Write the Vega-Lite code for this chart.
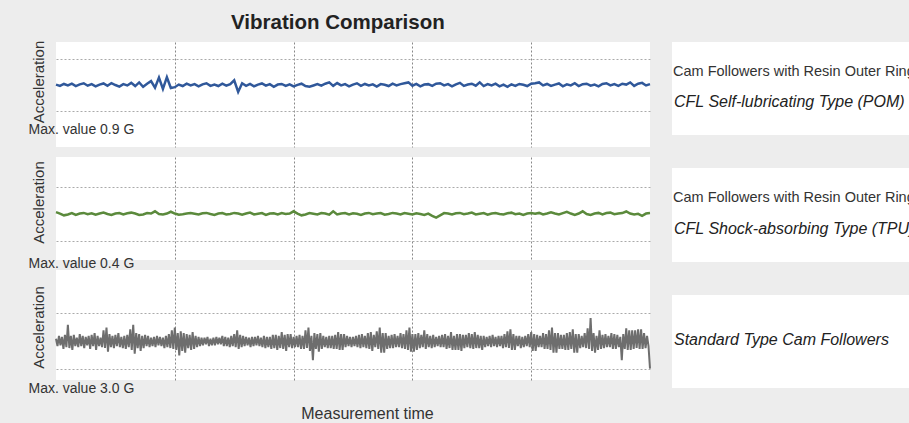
{
"$schema":"https://vega.github.io/schema/vega-lite/v6.json",
"background":"#ededed",
"padding":{"left":28,"top":12,"right":0,"bottom":6},
"config":{"font":"Liberation Sans","view":{"stroke":null},"axis":{"gridColor":"#aaaaaa","gridDash":[2,2],"gridWidth":1,"labels":false,"ticks":false,"domain":false,"titleFont":"Liberation Sans","titleFontWeight":"normal","titleColor":"#333333"}},
"title":{"text":"Vibration Comparison","anchor":"start","dx":203,"fontSize":20.5,"fontWeight":"bold","color":"#222222","offset":7},
"datasets":{
"pom":[{"t":0,"a":0.05},{"t":1,"a":-0.1},{"t":2,"a":0.12},{"t":3,"a":-0.05},{"t":4,"a":0.15},{"t":5,"a":-0.12},{"t":6,"a":0.08},{"t":7,"a":0.2},{"t":8,"a":-0.08},{"t":9,"a":0.1},{"t":10,"a":-0.15},{"t":11,"a":0.05},{"t":12,"a":0.18},{"t":13,"a":-0.1},{"t":14,"a":0.22},{"t":15,"a":0},{"t":16,"a":-0.18},{"t":17,"a":0.1},{"t":18,"a":-0.05},{"t":19,"a":0.25},{"t":20,"a":-0.12},{"t":21,"a":0.3},{"t":22,"a":-0.2},{"t":23,"a":0.15},{"t":24,"a":0.45},{"t":25,"a":-0.3},{"t":26,"a":0.85},{"t":27,"a":-0.45},{"t":28,"a":0.9},{"t":29,"a":-0.35},{"t":30,"a":-0.25},{"t":31,"a":0.05},{"t":32,"a":-0.12},{"t":33,"a":0.15},{"t":34,"a":-0.05},{"t":35,"a":0.1},{"t":36,"a":-0.15},{"t":37,"a":0.08},{"t":38,"a":0.2},{"t":39,"a":-0.1},{"t":40,"a":0.05},{"t":41,"a":-0.12},{"t":42,"a":0.15},{"t":43,"a":-0.08},{"t":44,"a":0.1},{"t":45,"a":0.55},{"t":46,"a":-0.8},{"t":47,"a":0.2},{"t":48,"a":-0.1},{"t":49,"a":0.12},{"t":50,"a":-0.15},{"t":51,"a":0.05},{"t":52,"a":0.18},{"t":53,"a":-0.08},{"t":54,"a":0.1},{"t":55,"a":-0.2},{"t":56,"a":0.05},{"t":57,"a":0.12},{"t":58,"a":-0.1},{"t":59,"a":0.08},{"t":60,"a":-0.15},{"t":61,"a":0.02},{"t":62,"a":0.15},{"t":63,"a":-0.12},{"t":64,"a":-0.2},{"t":65,"a":-0.05},{"t":66,"a":0.1},{"t":67,"a":-0.08},{"t":68,"a":0.15},{"t":69,"a":0.3},{"t":70,"a":-0.1},{"t":71,"a":0.22},{"t":72,"a":-0.05},{"t":73,"a":0.1},{"t":74,"a":-0.15},{"t":75,"a":0.05},{"t":76,"a":0.2},{"t":77,"a":-0.1},{"t":78,"a":0.12},{"t":79,"a":-0.05},{"t":80,"a":0.08},{"t":81,"a":-0.18},{"t":82,"a":0.1},{"t":83,"a":0.02},{"t":84,"a":-0.12},{"t":85,"a":0.15},{"t":86,"a":-0.05},{"t":87,"a":0.1},{"t":88,"a":0.2},{"t":89,"a":0.3},{"t":90,"a":-0.08},{"t":91,"a":0.12},{"t":92,"a":-0.15},{"t":93,"a":0.05},{"t":94,"a":0.1},{"t":95,"a":-0.1},{"t":96,"a":0.15},{"t":97,"a":0.2},{"t":98,"a":-0.05},{"t":99,"a":0.1},{"t":100,"a":-0.15},{"t":101,"a":0.08},{"t":102,"a":0.25},{"t":103,"a":-0.1},{"t":104,"a":0.05},{"t":105,"a":0.15},{"t":106,"a":-0.08},{"t":107,"a":0.3},{"t":108,"a":-0.12},{"t":109,"a":0.1},{"t":110,"a":-0.05},{"t":111,"a":0.15},{"t":112,"a":-0.15},{"t":113,"a":0.05},{"t":114,"a":-0.2},{"t":115,"a":0.08},{"t":116,"a":-0.1},{"t":117,"a":0.12},{"t":118,"a":0.02},{"t":119,"a":-0.12},{"t":120,"a":0.15},{"t":121,"a":0.2},{"t":122,"a":0.3},{"t":123,"a":-0.05},{"t":124,"a":0.12},{"t":125,"a":-0.1},{"t":126,"a":0.05},{"t":127,"a":0.18},{"t":128,"a":-0.15},{"t":129,"a":0.08},{"t":130,"a":-0.05},{"t":131,"a":0.2},{"t":132,"a":-0.12},{"t":133,"a":0.1},{"t":134,"a":0.15},{"t":135,"a":-0.08},{"t":136,"a":0.05},{"t":137,"a":-0.15},{"t":138,"a":0.12},{"t":139,"a":0.2},{"t":140,"a":-0.05},{"t":141,"a":0.1},{"t":142,"a":-0.1},{"t":143,"a":0.15},{"t":144,"a":0.05},{"t":145,"a":0.3},{"t":146,"a":-0.1},{"t":147,"a":0.15},{"t":148,"a":0.25},{"t":149,"a":-0.05},{"t":150,"a":0.1}],
"tpu":[{"t":0,"a":0.2},{"t":1,"a":0.05},{"t":2,"a":-0.15},{"t":3,"a":-0.05},{"t":4,"a":0.1},{"t":5,"a":-0.1},{"t":6,"a":0.05},{"t":7,"a":0.12},{"t":8,"a":-0.02},{"t":9,"a":0.08},{"t":10,"a":-0.08},{"t":11,"a":0.05},{"t":12,"a":0.15},{"t":13,"a":0},{"t":14,"a":-0.1},{"t":15,"a":0.05},{"t":16,"a":0.1},{"t":17,"a":-0.05},{"t":18,"a":0.08},{"t":19,"a":0.15},{"t":20,"a":0.05},{"t":21,"a":-0.1},{"t":22,"a":-0.05},{"t":23,"a":0.1},{"t":24,"a":0.05},{"t":25,"a":0.3},{"t":26,"a":0},{"t":27,"a":-0.05},{"t":28,"a":0.05},{"t":29,"a":0.25},{"t":30,"a":0.05},{"t":31,"a":-0.08},{"t":32,"a":-0.02},{"t":33,"a":0.05},{"t":34,"a":0.1},{"t":35,"a":0.02},{"t":36,"a":-0.05},{"t":37,"a":0.08},{"t":38,"a":0.12},{"t":39,"a":0},{"t":40,"a":-0.1},{"t":41,"a":0.05},{"t":42,"a":0.1},{"t":43,"a":-0.05},{"t":44,"a":0},{"t":45,"a":0.12},{"t":46,"a":0.05},{"t":47,"a":-0.08},{"t":48,"a":0.05},{"t":49,"a":0.15},{"t":50,"a":-0.05},{"t":51,"a":0.02},{"t":52,"a":0.1},{"t":53,"a":-0.1},{"t":54,"a":0.05},{"t":55,"a":0.08},{"t":56,"a":-0.05},{"t":57,"a":0.1},{"t":58,"a":0},{"t":59,"a":0.05},{"t":60,"a":0.3},{"t":61,"a":0.05},{"t":62,"a":-0.15},{"t":63,"a":-0.05},{"t":64,"a":0.1},{"t":65,"a":0.02},{"t":66,"a":-0.05},{"t":67,"a":0.1},{"t":68,"a":0.05},{"t":69,"a":-0.08},{"t":70,"a":0.3},{"t":71,"a":-0.05},{"t":72,"a":0.05},{"t":73,"a":0.1},{"t":74,"a":-0.05},{"t":75,"a":0.08},{"t":76,"a":0.02},{"t":77,"a":-0.1},{"t":78,"a":0.05},{"t":79,"a":0.12},{"t":80,"a":-0.02},{"t":81,"a":0.05},{"t":82,"a":0.1},{"t":83,"a":-0.08},{"t":84,"a":0},{"t":85,"a":0.12},{"t":86,"a":0.05},{"t":87,"a":-0.05},{"t":88,"a":0.1},{"t":89,"a":0.02},{"t":90,"a":-0.05},{"t":91,"a":0.08},{"t":92,"a":0},{"t":93,"a":-0.1},{"t":94,"a":0.05},{"t":95,"a":-0.2},{"t":96,"a":-0.4},{"t":97,"a":-0.15},{"t":98,"a":0.1},{"t":99,"a":0.05},{"t":100,"a":-0.05},{"t":101,"a":0.08},{"t":102,"a":0.12},{"t":103,"a":-0.02},{"t":104,"a":0.05},{"t":105,"a":0.15},{"t":106,"a":-0.05},{"t":107,"a":0.02},{"t":108,"a":0.1},{"t":109,"a":-0.08},{"t":110,"a":0.05},{"t":111,"a":0.1},{"t":112,"a":0},{"t":113,"a":-0.05},{"t":114,"a":0.08},{"t":115,"a":0.15},{"t":116,"a":-0.02},{"t":117,"a":0.05},{"t":118,"a":-0.1},{"t":119,"a":0.05},{"t":120,"a":0.1},{"t":121,"a":0.02},{"t":122,"a":0.12},{"t":123,"a":-0.05},{"t":124,"a":0.05},{"t":125,"a":0.18},{"t":126,"a":0.05},{"t":127,"a":-0.05},{"t":128,"a":0.1},{"t":129,"a":0.25},{"t":130,"a":0.05},{"t":131,"a":-0.1},{"t":132,"a":0.05},{"t":133,"a":0.3},{"t":134,"a":0},{"t":135,"a":-0.1},{"t":136,"a":0.05},{"t":137,"a":0.12},{"t":138,"a":-0.05},{"t":139,"a":0.1},{"t":140,"a":0.15},{"t":141,"a":-0.02},{"t":142,"a":0.05},{"t":143,"a":0.1},{"t":144,"a":0.28},{"t":145,"a":0.05},{"t":146,"a":-0.05},{"t":147,"a":0.02},{"t":148,"a":-0.2},{"t":149,"a":0.05},{"t":150,"a":0.1}],
"std":[{"t":0,"a":0.3},{"t":1,"a":-0.5},{"t":2,"a":0.6},{"t":3,"a":-0.4},{"t":4,"a":0.5},{"t":5,"a":-0.8},{"t":6,"a":0.7},{"t":7,"a":-0.6},{"t":8,"a":1.8},{"t":9,"a":-0.7},
{"t":10,"a":0.6},{"t":11,"a":-0.9},{"t":12,"a":0.7},{"t":13,"a":-0.5},{"t":14,"a":0.4},{"t":15,"a":-0.6},{"t":16,"a":0.8},{"t":17,"a":-0.5},{"t":18,"a":0.6},{"t":19,"a":-0.7},
{"t":20,"a":0.5},{"t":21,"a":-0.4},{"t":22,"a":0.6},{"t":23,"a":-0.8},{"t":24,"a":0.7},{"t":25,"a":-0.5},{"t":26,"a":0.9},{"t":27,"a":-0.9},{"t":28,"a":0.6},{"t":29,"a":-0.5},
{"t":30,"a":0.4},{"t":31,"a":-0.6},{"t":32,"a":1.2},{"t":33,"a":-0.7},{"t":34,"a":1.5},{"t":35,"a":-1.1},{"t":36,"a":0.8},{"t":37,"a":-0.6},{"t":38,"a":0.6},{"t":39,"a":-0.7},
{"t":40,"a":0.7},{"t":41,"a":-0.5},{"t":42,"a":0.9},{"t":43,"a":-0.6},{"t":44,"a":0.5},{"t":45,"a":-0.7},{"t":46,"a":0.6},{"t":47,"a":-0.8},{"t":48,"a":0.7},{"t":49,"a":-0.6},
{"t":50,"a":1.3},{"t":51,"a":-0.9},{"t":52,"a":1.8},{"t":53,"a":-1.3},{"t":54,"a":0.9},{"t":55,"a":-0.7},{"t":56,"a":0.8},{"t":57,"a":-1.0},{"t":58,"a":0.6},{"t":59,"a":-0.7},
{"t":60,"a":0.7},{"t":61,"a":-0.5},{"t":62,"a":0.6},{"t":63,"a":-0.6},{"t":64,"a":0.4},{"t":65,"a":-0.5},{"t":66,"a":0.5},{"t":67,"a":-0.6},{"t":68,"a":0.6},{"t":69,"a":-0.4},
{"t":70,"a":0.5},{"t":71,"a":-0.5},{"t":72,"a":0.4},{"t":73,"a":-0.7},{"t":74,"a":0.6},{"t":75,"a":-0.6},{"t":76,"a":0.8},{"t":77,"a":-0.7},{"t":78,"a":1.2},{"t":79,"a":-0.8},
{"t":80,"a":1.5},{"t":81,"a":-0.9},{"t":82,"a":0.9},{"t":83,"a":-1.5},{"t":84,"a":1.1},{"t":85,"a":-1.0},{"t":86,"a":0.9},{"t":87,"a":-1.2},{"t":88,"a":0.8},{"t":89,"a":-0.7},
{"t":90,"a":0.7},{"t":91,"a":-0.9},{"t":92,"a":1.0},{"t":93,"a":-0.8},{"t":94,"a":0.6},{"t":95,"a":-0.6},{"t":96,"a":0.5},{"t":97,"a":-0.5},{"t":98,"a":0.4},{"t":99,"a":-0.4},
{"t":100,"a":0.4},{"t":101,"a":-0.3},{"t":102,"a":0.5},{"t":103,"a":-0.5},{"t":104,"a":0.3},{"t":105,"a":-0.4},{"t":106,"a":0.4},{"t":107,"a":-0.4},{"t":108,"a":0.5},{"t":109,"a":-0.3},
{"t":110,"a":0.4},{"t":111,"a":-0.3},{"t":112,"a":0.6},{"t":113,"a":-0.5},{"t":114,"a":0.5},{"t":115,"a":-0.5},{"t":116,"a":0.4},{"t":117,"a":-0.6},{"t":118,"a":0.6},{"t":119,"a":-0.5},
{"t":120,"a":0.8},{"t":121,"a":-0.6},{"t":122,"a":1.2},{"t":123,"a":-0.8},{"t":124,"a":0.7},{"t":125,"a":-0.6},{"t":126,"a":0.6},{"t":127,"a":-0.5},{"t":128,"a":0.5},{"t":129,"a":-0.4},
{"t":130,"a":0.4},{"t":131,"a":-0.6},{"t":132,"a":0.5},{"t":133,"a":-0.5},{"t":134,"a":0.5},{"t":135,"a":-0.4},{"t":136,"a":0.6},{"t":137,"a":-0.5},{"t":138,"a":0.4},{"t":139,"a":-0.6},
{"t":140,"a":0.6},{"t":141,"a":-0.7},{"t":142,"a":0.5},{"t":143,"a":-0.6},{"t":144,"a":0.5},{"t":145,"a":-0.8},{"t":146,"a":0.7},{"t":147,"a":-0.7},{"t":148,"a":0.7},{"t":149,"a":-0.9},
{"t":150,"a":0.6},{"t":151,"a":-0.7},{"t":152,"a":1.0},{"t":153,"a":-0.8},{"t":154,"a":0.7},{"t":155,"a":-1.0},{"t":156,"a":0.8},{"t":157,"a":-0.6},{"t":158,"a":0.8},{"t":159,"a":-0.7},
{"t":160,"a":0.5},{"t":161,"a":-0.6},{"t":162,"a":0.6},{"t":163,"a":-0.6},{"t":164,"a":0.7},{"t":165,"a":-0.8},{"t":166,"a":0.6},{"t":167,"a":-0.8},{"t":168,"a":1.2},{"t":169,"a":-0.7},
{"t":170,"a":1.5},{"t":171,"a":-1.0},{"t":172,"a":0.6},{"t":173,"a":-2.0},{"t":174,"a":0.9},{"t":175,"a":-0.8},{"t":176,"a":0.8},{"t":177,"a":-1.1},{"t":178,"a":0.9},{"t":179,"a":-0.8},
{"t":180,"a":0.6},{"t":181,"a":-0.6},{"t":182,"a":0.5},{"t":183,"a":-0.7},{"t":184,"a":0.6},{"t":185,"a":-0.7},{"t":186,"a":0.6},{"t":187,"a":-0.8},{"t":188,"a":0.7},{"t":189,"a":-0.8},
{"t":190,"a":1.0},{"t":191,"a":-0.9},{"t":192,"a":0.8},{"t":193,"a":-0.9},{"t":194,"a":0.8},{"t":195,"a":-0.6},{"t":196,"a":0.6},{"t":197,"a":-0.5},{"t":198,"a":0.5},{"t":199,"a":-0.6},
{"t":200,"a":0.5},{"t":201,"a":-0.5},{"t":202,"a":0.6},{"t":203,"a":-0.6},{"t":204,"a":0.7},{"t":205,"a":-0.7},{"t":206,"a":0.8},{"t":207,"a":-0.6},{"t":208,"a":0.6},{"t":209,"a":-0.7},
{"t":210,"a":0.9},{"t":211,"a":-0.8},{"t":212,"a":1.0},{"t":213,"a":-1.0},{"t":214,"a":0.7},{"t":215,"a":-0.6},{"t":216,"a":1.1},{"t":217,"a":-0.8},{"t":218,"a":1.5},{"t":219,"a":-1.2},
{"t":220,"a":0.9},{"t":221,"a":-1.2},{"t":222,"a":0.9},{"t":223,"a":-0.8},{"t":224,"a":0.6},{"t":225,"a":-0.7},{"t":226,"a":0.7},{"t":227,"a":-0.7},{"t":228,"a":0.8},{"t":229,"a":-0.6},
{"t":230,"a":0.6},{"t":231,"a":-0.6},{"t":232,"a":0.9},{"t":233,"a":-0.7},{"t":234,"a":0.8},{"t":235,"a":-0.8},{"t":236,"a":1.2},{"t":237,"a":-0.9},{"t":238,"a":1.5},{"t":239,"a":-1.1},
{"t":240,"a":0.8},{"t":241,"a":-1.1},{"t":242,"a":0.8},{"t":243,"a":-0.9},{"t":244,"a":0.9},{"t":245,"a":-0.7},{"t":246,"a":0.7},{"t":247,"a":-0.6},{"t":248,"a":1.2},{"t":249,"a":-0.8},
{"t":250,"a":0.8},{"t":251,"a":-0.6},{"t":252,"a":0.6},{"t":253,"a":-0.7},{"t":254,"a":0.7},{"t":255,"a":-0.6},{"t":256,"a":0.5},{"t":257,"a":-0.5},{"t":258,"a":0.6},{"t":259,"a":-0.6},
{"t":260,"a":0.7},{"t":261,"a":-0.6},{"t":262,"a":0.8},{"t":263,"a":-0.8},{"t":264,"a":0.6},{"t":265,"a":-0.7},{"t":266,"a":1.0},{"t":267,"a":-0.9},{"t":268,"a":0.6},{"t":269,"a":-0.9},
{"t":270,"a":0.8},{"t":271,"a":-0.9},{"t":272,"a":0.8},{"t":273,"a":-1.0},{"t":274,"a":0.7},{"t":275,"a":-0.7},{"t":276,"a":0.7},{"t":277,"a":-0.6},{"t":278,"a":0.9},{"t":279,"a":-0.7},
{"t":280,"a":0.8},{"t":281,"a":-0.8},{"t":282,"a":1.0},{"t":283,"a":-0.7},{"t":284,"a":0.7},{"t":285,"a":-0.7},{"t":286,"a":0.6},{"t":287,"a":-0.9},{"t":288,"a":0.6},{"t":289,"a":-0.6},
{"t":290,"a":0.5},{"t":291,"a":-0.5},{"t":292,"a":0.6},{"t":293,"a":-0.6},{"t":294,"a":0.7},{"t":295,"a":-0.5},{"t":296,"a":0.5},{"t":297,"a":-0.6},{"t":298,"a":0.6},{"t":299,"a":-0.5},
{"t":300,"a":0.6},{"t":301,"a":-0.7},{"t":302,"a":0.8},{"t":303,"a":-0.6},{"t":304,"a":1.1},{"t":305,"a":-0.7},{"t":306,"a":1.3},{"t":307,"a":-0.9},{"t":308,"a":0.8},{"t":309,"a":-0.9},
{"t":310,"a":0.6},{"t":311,"a":-0.5},{"t":312,"a":0.6},{"t":313,"a":-0.7},{"t":314,"a":0.5},{"t":315,"a":-0.6},{"t":316,"a":0.6},{"t":317,"a":-0.5},{"t":318,"a":0.8},{"t":319,"a":-0.6},
{"t":320,"a":1.0},{"t":321,"a":-1.0},{"t":322,"a":0.8},{"t":323,"a":-1.0},{"t":324,"a":0.7},{"t":325,"a":-0.6},{"t":326,"a":0.6},{"t":327,"a":-0.6},{"t":328,"a":0.9},{"t":329,"a":-0.8},
{"t":330,"a":0.8},{"t":331,"a":-0.8},{"t":332,"a":1.2},{"t":333,"a":-0.9},{"t":334,"a":1.5},{"t":335,"a":-1.2},{"t":336,"a":0.9},{"t":337,"a":-1.2},{"t":338,"a":0.9},{"t":339,"a":-0.8},
{"t":340,"a":0.7},{"t":341,"a":-0.8},{"t":342,"a":0.7},{"t":343,"a":-0.9},{"t":344,"a":0.9},{"t":345,"a":-0.9},{"t":346,"a":1.0},{"t":347,"a":-0.8},{"t":348,"a":1.3},{"t":349,"a":-1.2},
{"t":350,"a":0.8},{"t":351,"a":-1.2},{"t":352,"a":0.8},{"t":353,"a":-0.7},{"t":354,"a":0.6},{"t":355,"a":-0.6},{"t":356,"a":0.9},{"t":357,"a":-0.7},{"t":358,"a":1.4},{"t":359,"a":-0.8},
{"t":360,"a":2.5},{"t":361,"a":-1.0},{"t":362,"a":0.9},{"t":363,"a":-1.2},{"t":364,"a":0.6},{"t":365,"a":-0.9},{"t":366,"a":1.2},{"t":367,"a":-0.8},{"t":368,"a":0.7},{"t":369,"a":-0.7},
{"t":370,"a":0.8},{"t":371,"a":-0.6},{"t":372,"a":0.6},{"t":373,"a":-0.6},{"t":374,"a":0.9},{"t":375,"a":-0.8},{"t":376,"a":0.8},{"t":377,"a":-0.8},{"t":378,"a":0.7},{"t":379,"a":-0.6},
{"t":380,"a":0.5},{"t":381,"a":-2.0},{"t":382,"a":0.8},{"t":383,"a":-0.8},{"t":384,"a":1.4},{"t":385,"a":-0.9},{"t":386,"a":1.2},{"t":387,"a":-0.9},{"t":388,"a":1.2},{"t":389,"a":-0.8},
{"t":390,"a":1.2},{"t":391,"a":-0.7},{"t":392,"a":1.3},{"t":393,"a":-0.8},{"t":394,"a":1.3},{"t":395,"a":-0.8},{"t":396,"a":0.9},{"t":397,"a":-0.7},{"t":398,"a":0.6},{"t":399,"a":-0.5},
{"t":400,"a":-2.9}]
},
"hconcat":[
{"vconcat":[
{"width":594,"height":105,"view":{"fill":"white","stroke":null},"data":{"name":"pom"},
"mark":{"type":"line","color":"#30589a","strokeWidth":2.5},
"encoding":{
"x":{"field":"t","type":"quantitative","scale":{"domain":[0,150],"nice":false},"axis":{"values":[30,60,90,120],"grid":true,"gridColor":"#888888","title":"Max. value 0.9 G","titleX":-28,"titleY":-14,"titleAlign":"left","titleBaseline":"alphabetic","titleFontSize":14}},
"y":{"field":"a","type":"quantitative","scale":{"domain":[-7.15,4.96],"nice":false,"zero":false},"axis":{"values":[-3,3],"grid":true,"title":"Acceleration","titleX":-13,"titleY":39.5,"titleAngle":-90,"titleAlign":"center","titleBaseline":"alphabetic","titleFontSize":15}}
}},
{"width":594,"height":103,"view":{"fill":"white","stroke":null},"data":{"name":"tpu"},
"mark":{"type":"line","color":"#5b8a3c","strokeWidth":2.5},
"encoding":{
"x":{"field":"t","type":"quantitative","scale":{"domain":[0,150],"nice":false},"axis":{"values":[30,60,90,120],"grid":true,"gridColor":"#888888","title":"Max. value 0.4 G","titleX":-28,"titleY":7,"titleAlign":"left","titleBaseline":"alphabetic","titleFontSize":14}},
"y":{"field":"a","type":"quantitative","scale":{"domain":[-5.11,6.33],"nice":false,"zero":false},"axis":{"values":[-3,3],"grid":true,"title":"Acceleration","titleX":-13,"titleY":45,"titleAngle":-90,"titleAlign":"center","titleBaseline":"alphabetic","titleFontSize":15}}
}},
{"width":594,"height":110,"view":{"fill":"white","stroke":null},"data":{"name":"std"},
"encoding":{
"y":{"field":"a","type":"quantitative","scale":{"domain":[-4.125,7.66],"nice":false,"zero":false},"axis":{"values":[-3,3],"grid":true,"title":"Acceleration","titleX":-13,"titleY":57,"titleAngle":-90,"titleAlign":"center","titleBaseline":"alphabetic","titleFontSize":15}}
},
"layer":[
{"mark":{"type":"line","color":"#6e6e6e","strokeWidth":2},
"encoding":{"x":{"field":"t","type":"quantitative","scale":{"domain":[0,400],"nice":false},"axis":{"values":[80,160,240,320],"grid":true,"gridColor":"#888888","title":"Max. value 3.0 G","titleX":-28,"titleY":12,"titleAlign":"left","titleBaseline":"alphabetic","titleFontSize":14}}}},
{"mark":{"type":"line","opacity":0},
"encoding":{"x":{"field":"t","type":"quantitative","scale":{"domain":[0,400],"nice":false},"axis":{"orient":"bottom","grid":false,"values":[],"title":"Measurement time","titleX":311,"titleY":38,"titleAlign":"center","titleBaseline":"alphabetic","titleFontSize":16}}}}
],
"resolve":{"scale":{"x":"independent"},"axis":{"x":"independent"}}
}
],"spacing":10,"bounds":"flush"},
{"vconcat":[
{"width":245,"height":93,"view":{"fill":"white","stroke":null},
"data":{"values":[{"line":1,"label":"Cam Followers with Resin Outer Ring"},{"line":2,"label":"CFL Self-lubricating Type (POM)"}]},
"encoding":{"x":{"datum":0,"type":"quantitative","scale":{"domain":[0,1]},"axis":null},"y":{"field":"line","type":"ordinal","scale":{"type":"point","domain":[1,2],"padding":1.103,"align":0.547},"axis":null},"text":{"field":"label"}},
"layer":[
{"transform":[{"filter":"datum.line == 1"}],"mark":{"type":"text","align":"left","baseline":"alphabetic","fontSize":14.5,"color":"#333333","dx":1}},
{"transform":[{"filter":"datum.line == 2"}],"mark":{"type":"text","align":"left","baseline":"alphabetic","fontSize":16,"fontStyle":"italic","color":"#222222","dx":2}}
]},
{"width":245,"height":94,"view":{"fill":"white","stroke":null},
"data":{"values":[{"line":1,"label":"Cam Followers with Resin Outer Ring"},{"line":2,"label":"CFL Shock-absorbing Type (TPU)"}]},
"encoding":{"x":{"datum":0,"type":"quantitative","scale":{"domain":[0,1]},"axis":null},"y":{"field":"line","type":"ordinal","scale":{"type":"point","domain":[1,2],"padding":1.543,"align":0.549},"axis":null},"text":{"field":"label"}},
"layer":[
{"transform":[{"filter":"datum.line == 1"}],"mark":{"type":"text","align":"left","baseline":"alphabetic","fontSize":14.5,"color":"#333333","dx":1}},
{"transform":[{"filter":"datum.line == 2"}],"mark":{"type":"text","align":"left","baseline":"alphabetic","fontSize":16,"fontStyle":"italic","color":"#222222","dx":2}}
]},
{"width":245,"height":93,"view":{"fill":"white","stroke":null},
"data":{"values":[{"line":1,"label":"Standard Type Cam Followers"}]},
"encoding":{"x":{"datum":0,"type":"quantitative","scale":{"domain":[0,1]},"axis":null},"y":{"field":"line","type":"ordinal","scale":{"type":"point","domain":[1],"padding":0,"align":0.538},"axis":null},"text":{"field":"label"}},
"mark":{"type":"text","align":"left","baseline":"alphabetic","fontSize":16,"fontStyle":"italic","color":"#222222","dx":2}
}
],"spacing":33,"bounds":"flush"}
],
"spacing":17
}
